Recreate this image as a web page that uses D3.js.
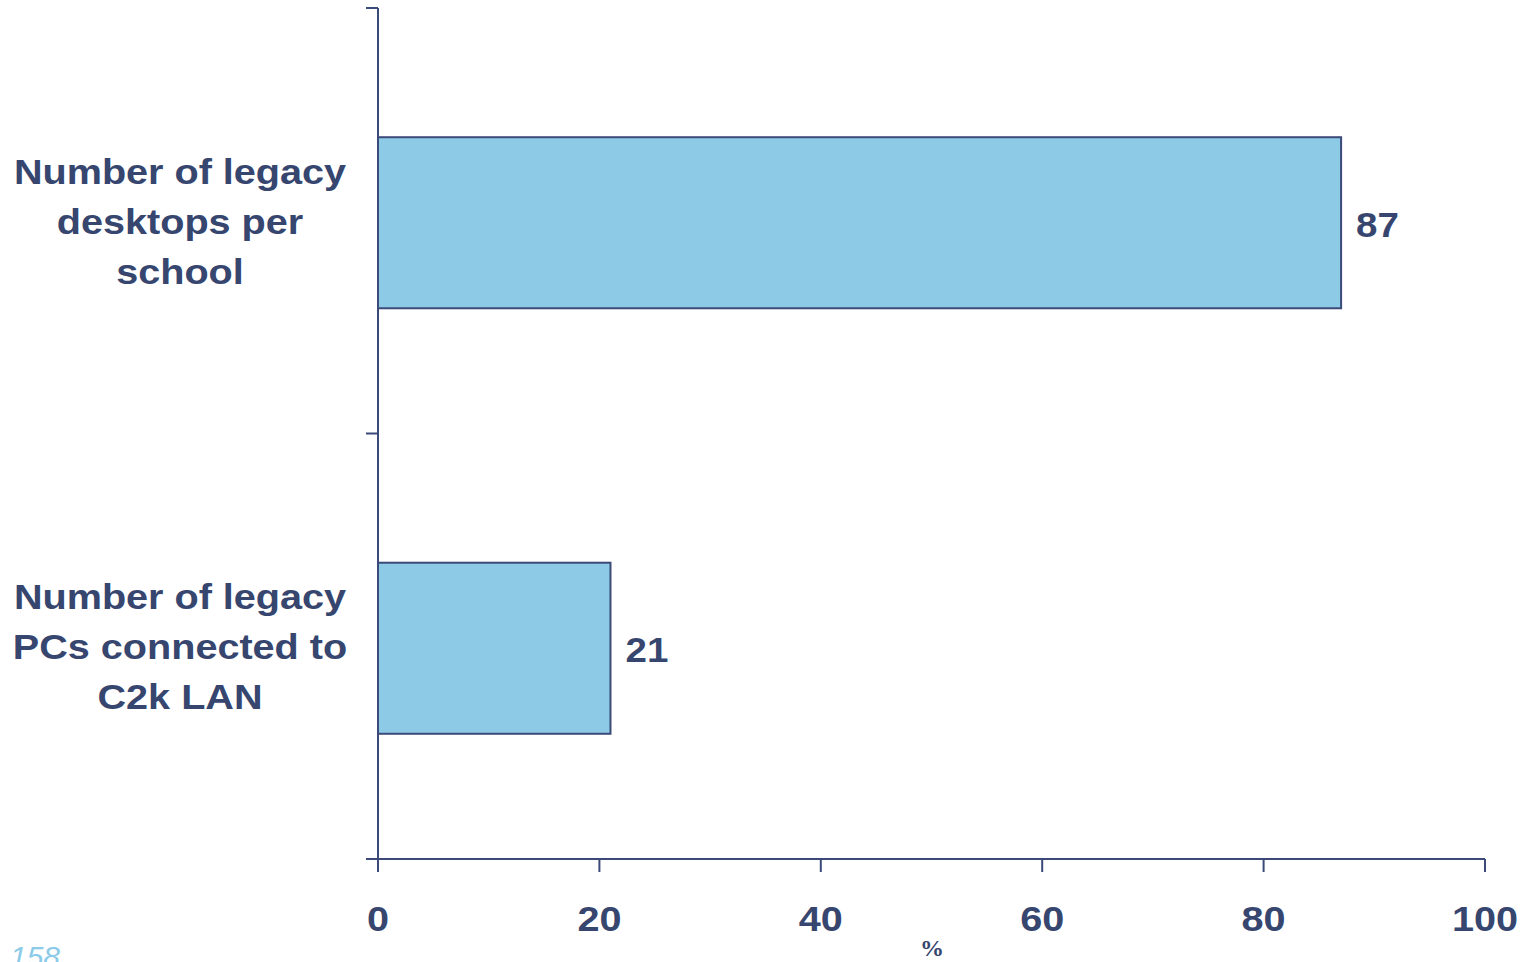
<!DOCTYPE html>
<html><head><meta charset="utf-8">
<script src="https://cdn.jsdelivr.net/npm/d3@7"></script>
<style>
html,body{margin:0;padding:0;background:#fff;}
svg{display:block;}
</style></head>
<body>
<script>
const categories = [
  ["Number of legacy", "desktops per", "school"],
  ["Number of legacy", "PCs connected to", "C2k LAN"]
];
const values = [87, 21];
const xTicks = [0, 20, 40, 60, 80, 100];
const xTitle = "%";
const pageNum = "158";

const W = 1530, H = 962;
const axisColor = "#3b4a78";
const textColor = "#36466f";
const barFill = "#8dcae6";
const sx = 1.1;
const font = "Liberation Sans, Arial, sans-serif";

const svg = d3.select("body").append("svg").attr("width", W).attr("height", H);

const x = d3.scaleLinear().domain([0, 100]).range([378, 1485]);
const y = d3.scaleBand().domain(d3.range(categories.length)).range([10, 861]).paddingInner(0.598).paddingOuter(0.299);
const yOuter = d3.scaleBand().domain(d3.range(categories.length)).range([8, 859]);

// bars
svg.selectAll("rect.bar").data(values).enter().append("rect")
  .attr("class", "bar")
  .attr("x", x(0))
  .attr("y", (d, i) => y(i))
  .attr("width", d => x(d) - x(0))
  .attr("height", y.bandwidth())
  .attr("fill", barFill)
  .attr("stroke", axisColor)
  .attr("stroke-width", 2);

// value labels
svg.selectAll("text.val").data(values).enter().append("text")
  .attr("transform", (d, i) => `translate(${x(d) + 15},${y(i) + y.bandwidth() / 2 + 14}) scale(${sx},1)`)
  .attr("font-family", font)
  .attr("font-weight", "bold")
  .attr("font-size", 35)
  .attr("fill", textColor)
  .text(d => d);

// y axis
const yAxisG = svg.append("g");
yAxisG.append("line").attr("x1", 378).attr("x2", 378).attr("y1", 8).attr("y2", 859)
  .attr("stroke", axisColor).attr("stroke-width", 2);
const yTickPos = [8].concat(d3.range(categories.length).map(i => yOuter(i) + yOuter.step()));
yAxisG.selectAll("line.yt").data(yTickPos).enter().append("line")
  .attr("x1", 366).attr("x2", 378).attr("y1", d => d).attr("y2", d => d)
  .attr("stroke", axisColor).attr("stroke-width", 2);

// category labels
categories.forEach((lines, i) => {
  const cy = yOuter(i) + yOuter.step() / 2;
  const t = svg.append("text")
    .attr("transform", `translate(180,${cy}) scale(${sx},1)`)
    .attr("text-anchor", "middle")
    .attr("font-family", font)
    .attr("font-weight", "bold")
    .attr("font-size", 36)
    .attr("fill", textColor);
  lines.forEach((ln, j) => {
    t.append("tspan").attr("x", 0)
      .attr("y", (j - 1) * 50 + 13)
      .text(ln);
  });
});

// x axis
const xAxisG = svg.append("g").attr("transform", "translate(0,859)");
xAxisG.append("line").attr("x1", 366).attr("x2", x(100)).attr("y1", 0).attr("y2", 0)
  .attr("stroke", axisColor).attr("stroke-width", 2);
xAxisG.selectAll("line.xt").data(xTicks).enter().append("line")
  .attr("x1", d => x(d)).attr("x2", d => x(d)).attr("y1", 0).attr("y2", 13)
  .attr("stroke", axisColor).attr("stroke-width", 2);
xAxisG.selectAll("text.xl").data(xTicks).enter().append("text")
  .attr("transform", d => `translate(${x(d)},72) scale(${sx},1)`)
  .attr("text-anchor", "middle")
  .attr("font-family", font)
  .attr("font-weight", "bold")
  .attr("font-size", 36)
  .attr("fill", textColor)
  .text(d => d);

// x title
svg.append("text").attr("x", 932).attr("y", 956)
  .attr("text-anchor", "middle")
  .attr("font-family", "Liberation Serif, Times New Roman, serif")
  .attr("font-weight", "bold")
  .attr("font-size", 24)
  .attr("fill", textColor)
  .text(xTitle);

// page number
svg.append("text").attr("x", 10).attr("y", 967)
  .attr("font-family", font)
  .attr("font-style", "italic")
  .attr("font-size", 30)
  .attr("fill", "#8ccbe8")
  .text(pageNum);
</script>
</body></html>
